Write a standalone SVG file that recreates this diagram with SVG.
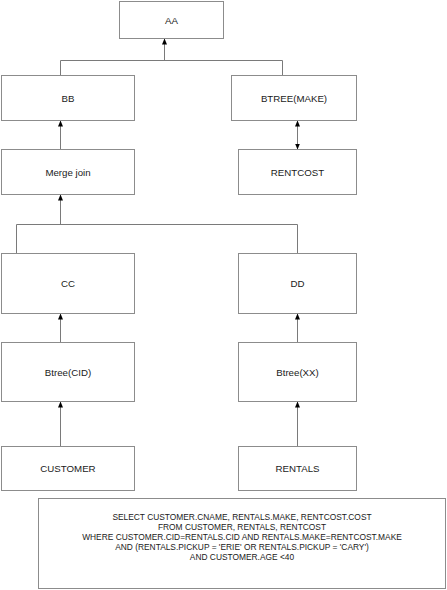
<svg xmlns="http://www.w3.org/2000/svg" width="447" height="590" viewBox="0 0 447 590">
<style>
.box{fill:#fff;stroke:#8c8c8c;stroke-width:1}
.lbl{font-family:"Liberation Sans",Arial,sans-serif;font-size:9.7px;fill:#1a1a1a;text-anchor:middle;dominant-baseline:central}
.sql{font-family:"Liberation Sans",Arial,sans-serif;font-size:8.4px;fill:#1a1a1a;text-anchor:middle}
.con{fill:none;stroke:#7a7a7a;stroke-width:1}
</style>
<defs>
<marker id="ah" viewBox="0 0 6 5" refX="6" refY="2.5" markerWidth="6" markerHeight="5" markerUnits="userSpaceOnUse" orient="auto-start-reverse">
<path d="M0,0 L6,2.5 L0,5 Z" fill="#000"/>
</marker>
</defs>
<rect width="447" height="590" fill="#fff"/>
<g id="connectors">
<path class="con" d="M164.5,60.5 V38.5" marker-end="url(#ah)"/>
<path class="con" d="M60.5,75.5 V60.5 H282.5 V75.5"/>
<path class="con" d="M60.5,149.5 V120.5" marker-end="url(#ah)"/>
<path class="con" d="M297.5,120.5 V149.5" marker-start="url(#ah)" marker-end="url(#ah)"/>
<path class="con" d="M60.5,224.5 V194.5" marker-end="url(#ah)"/>
<path class="con" d="M16.5,253.5 V224.5 H297.5 V253.5"/>
<path class="con" d="M60.5,342.5 V313.5" marker-end="url(#ah)"/>
<path class="con" d="M297.5,342.5 V313.5" marker-end="url(#ah)"/>
<path class="con" d="M60.5,446.5 V401.5" marker-end="url(#ah)"/>
<path class="con" d="M297.5,446.5 V401.5" marker-end="url(#ah)"/>
</g>
<g id="aa"><rect class="box" x="119.5" y="1.5" width="104" height="37"/><text class="lbl" x="171.5" y="20">AA</text></g>
<g id="bb"><rect class="box" x="1.5" y="75.5" width="133" height="45"/><text class="lbl" x="68" y="98">BB</text></g>
<g id="btree-make"><rect class="box" x="231.5" y="75.5" width="125" height="45"/><text class="lbl" x="294" y="98">BTREE(MAKE)</text></g>
<g id="merge-join"><rect class="box" x="1.5" y="149.5" width="133" height="45"/><text class="lbl" x="68" y="172">Merge join</text></g>
<g id="rentcost"><rect class="box" x="238.5" y="149.5" width="118" height="45"/><text class="lbl" x="297.5" y="172">RENTCOST</text></g>
<g id="cc"><rect class="box" x="1.5" y="253.5" width="133" height="60"/><text class="lbl" x="68" y="283.5">CC</text></g>
<g id="dd"><rect class="box" x="238.5" y="253.5" width="118" height="60"/><text class="lbl" x="297.5" y="283.5">DD</text></g>
<g id="btree-cid"><rect class="box" x="1.5" y="342.5" width="133" height="59"/><text class="lbl" x="68" y="372">Btree(CID)</text></g>
<g id="btree-xx"><rect class="box" x="238.5" y="342.5" width="118" height="59"/><text class="lbl" x="297.5" y="372">Btree(XX)</text></g>
<g id="customer"><rect class="box" x="1.5" y="446.5" width="133" height="44"/><text class="lbl" x="68" y="468.5">CUSTOMER</text></g>
<g id="rentals"><rect class="box" x="238.5" y="446.5" width="118" height="44"/><text class="lbl" x="297.5" y="468.5">RENTALS</text></g>
<g id="sql">
<rect class="box" x="38.5" y="498.5" width="407" height="90"/>
<text class="sql" x="242" y="520">SELECT CUSTOMER.CNAME, RENTALS.MAKE, RENTCOST.COST</text>
<text class="sql" x="242" y="530">FROM CUSTOMER, RENTALS, RENTCOST</text>
<text class="sql" x="242" y="540">WHERE CUSTOMER.CID=RENTALS.CID AND RENTALS.MAKE=RENTCOST.MAKE</text>
<text class="sql" x="242" y="550">AND (RENTALS.PICKUP = 'ERIE' OR RENTALS.PICKUP = 'CARY')</text>
<text class="sql" x="242" y="560">AND CUSTOMER.AGE &lt;40</text>
</g>
</svg>
